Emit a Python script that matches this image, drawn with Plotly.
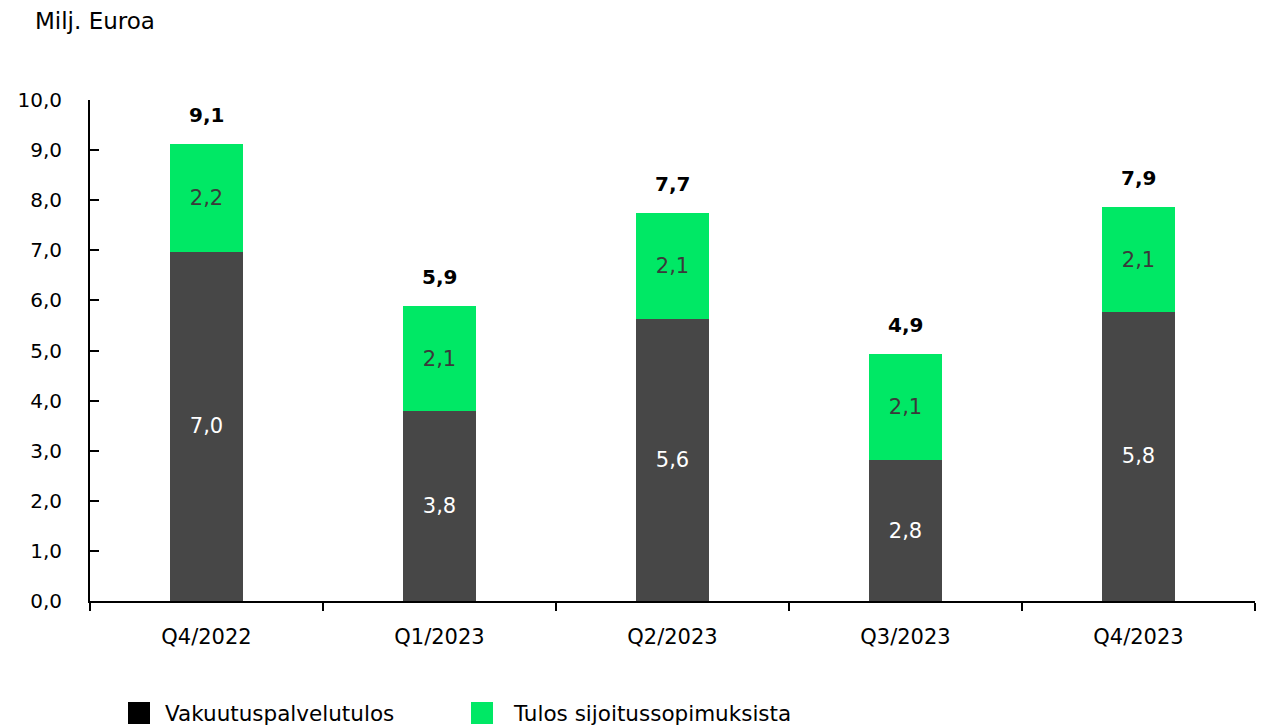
import plotly.graph_objects as go

categories = ["Q4/2022", "Q1/2023", "Q2/2023", "Q3/2023", "Q4/2023"]
vakuutus = [6.97, 3.79, 5.63, 2.81, 5.77]
sijoitus = [2.16, 2.10, 2.11, 2.13, 2.09]
totals = [a + b for a, b in zip(vakuutus, sijoitus)]
y_ticks = [0, 1, 2, 3, 4, 5, 6, 7, 8, 9, 10]
series_names = ["Vakuutuspalvelutulos", "Tulos sijoitussopimuksista"]

DARK = "#474747"
GREEN = "#00E865"
FONT = "DejaVu Sans"

W, H = 1271, 726
L, R, T, B = 90, 1255, 100, 601


def px(x):
    return (x - L) / (R - L)


def py(y):
    return (B - y) / (B - T)


fig = go.Figure()
fig.add_trace(go.Bar(
    x=categories, y=vakuutus, name=series_names[0], marker_color=DARK,
    marker_line_width=0,
    texttemplate="%{y:.1f}", textposition="inside", insidetextanchor="middle",
    textfont=dict(color="white", size=21, family=FONT), showlegend=False,
))
fig.add_trace(go.Bar(
    x=categories, y=sijoitus, name=series_names[1], marker_color=GREEN,
    marker_line_width=0,
    texttemplate="%{y:.1f}", textposition="inside", insidetextanchor="middle",
    textfont=dict(color="#3a3a3a", size=21, family=FONT), showlegend=False,
))

annotations = []
for c, t in zip(categories, totals):
    annotations.append(dict(
        x=c, y=t, xref="x", yref="y", text=f"{t:.1f}".replace(".", ","),
        showarrow=False, yanchor="bottom", yshift=15,
        font=dict(size=20, color="black", family=FONT, weight=600),
    ))

annotations.append(dict(
    x=px(33), y=py(21), xref="paper", yref="paper", text="Milj. Euroa",
    showarrow=False, xanchor="left", yanchor="middle",
    font=dict(size=23, color="black", family=FONT),
))

shapes = []
legend_items = [(series_names[0], "#000000", 128, 163), (series_names[1], GREEN, 471, 511)]
for name, col, sx, tx in legend_items:
    shapes.append(dict(type="rect", xref="paper", yref="paper",
                       x0=px(sx), x1=px(sx + 22), y0=py(724), y1=py(702),
                       fillcolor=col, line_width=0))
    annotations.append(dict(
        x=px(tx), y=py(713), xref="paper", yref="paper", text=name,
        showarrow=False, xanchor="left", yanchor="middle",
        font=dict(size=21.5, color="black", family=FONT),
    ))

fig.update_layout(
    width=W, height=H,
    margin=dict(l=L, r=W - R, t=T, b=H - B, pad=0),
    barmode="stack", bargap=0.687,
    plot_bgcolor="white", paper_bgcolor="white",
    separators=", ",
    font=dict(family=FONT, size=20, color="black"),
    showlegend=False,
    annotations=annotations, shapes=shapes,
    uniformtext=dict(mode=False),
)
fig.update_yaxes(
    range=[0, 10], tickvals=y_ticks, tickformat=".1f",
    showgrid=False, zeroline=False,
    showline=True, linecolor="black", linewidth=2,
    ticks="inside", ticklen=9, tickwidth=2, tickcolor="black",
    ticklabelstandoff=22, tickfont=dict(size=20, family=FONT),
)
fig.update_xaxes(
    showgrid=False, showline=True, linecolor="black", linewidth=2,
    ticks="outside", ticklen=8, tickwidth=2, tickcolor="black",
    tickson="boundaries", ticklabelstandoff=16,
    tickfont=dict(size=21, family=FONT),
)

fig.write_html(
    "out.html",
    config={"displayModeBar": False},
    post_script="document.body.style.margin='0';document.body.style.padding='0';",
)
